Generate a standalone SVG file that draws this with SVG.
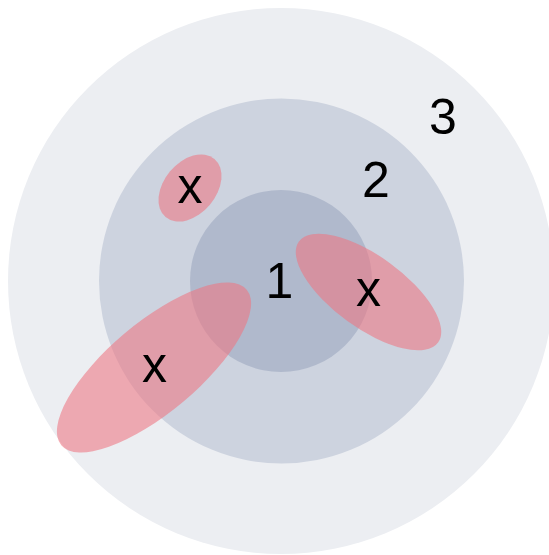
<svg xmlns="http://www.w3.org/2000/svg" width="549" height="555" viewBox="0 0 549 555">
  <style>
    .lbl { font-family: "Liberation Sans", Arial, Helvetica, sans-serif; font-size: 50px; fill: #000; text-anchor: middle; }
    .blob { fill: rgb(238,118,129); fill-opacity: 0.58; }
  </style>
  <rect width="549" height="555" fill="#ffffff"/>
  <g id="ring3">
    <circle cx="281" cy="281" r="273" fill="#ECEEF2"/>
    <text class="lbl" x="443" y="134">3</text>
  </g>
  <g id="ring2">
    <circle cx="281.5" cy="281" r="182.5" fill="#CDD3DF"/>
    <text class="lbl" x="376" y="197">2</text>
  </g>
  <g id="ring1">
    <circle cx="281" cy="281" r="91" fill="#B0B9CC"/>
    <text class="lbl" x="279.5" y="298">1</text>
  </g>
  <g id="blob-small">
    <ellipse class="blob" cx="190" cy="188" rx="38" ry="26" transform="rotate(-50 190 188)"/>
    <text class="lbl" x="190" y="203">x</text>
  </g>
  <g id="blob-right">
    <ellipse class="blob" cx="368.5" cy="292" rx="86" ry="36" transform="rotate(36 368.5 292)"/>
    <text class="lbl" x="368.5" y="306">x</text>
  </g>
  <g id="blob-left">
    <ellipse class="blob" cx="154" cy="367.5" rx="121" ry="45" transform="rotate(-40 154 367.5)"/>
    <text class="lbl" x="154.5" y="382">x</text>
  </g>
  <g id="connectors"/>
</svg>
